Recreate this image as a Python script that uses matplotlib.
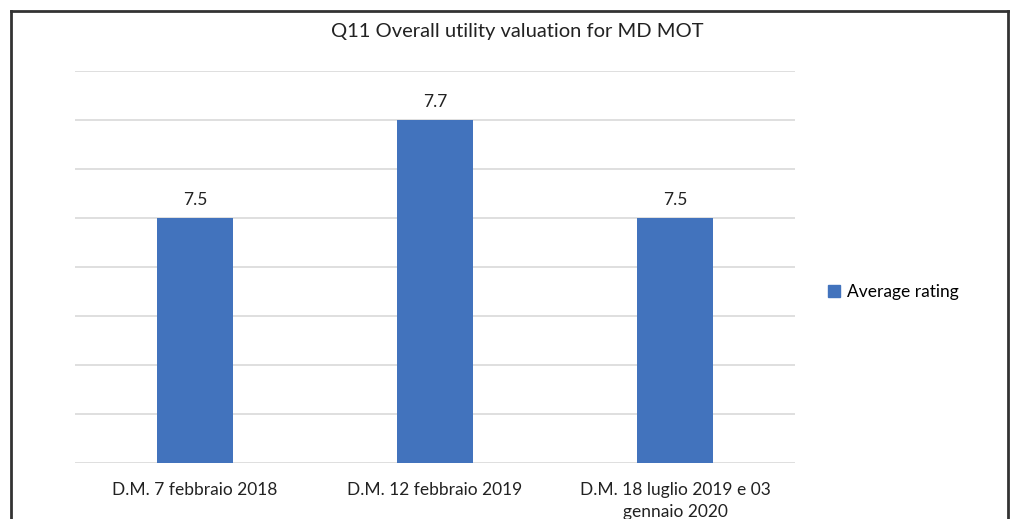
import matplotlib
matplotlib.use("Agg")
import matplotlib.pyplot as plt
from matplotlib.lines import Line2D
from matplotlib.patches import Patch

categories = ["D.M. 7 febbraio 2018", "D.M. 12 febbraio 2019", "D.M. 18 luglio 2019 e 03\ngennaio 2020"]
values = [7.5, 7.7, 7.5]
value_labels = ["7.5", "7.7", "7.5"]
series_name = "Average rating"
title = "Q11 Overall utility valuation for MD MOT"

plt.rcParams['font.family'] = ['Lato', 'DejaVu Sans']

W, H = 1011, 519
fig = plt.figure(figsize=(W/100, H/100), dpi=100)
ax = fig.add_axes([75/W, 1-463/H, (795-75)/W, (463-71)/H])

color = '#4273BD'
x = list(range(len(categories)))
ax.bar(x, values, width=0.315, color=color, zorder=3)
ax.set_xlim(-0.5, len(categories)-0.5)
ax.set_ylim(7.0, 7.8)
ax.set_yticks([7.0 + 0.1*i for i in range(9)])
ax.yaxis.grid(True, color='#d9d9d9', linewidth=1.2, zorder=0)
ax.tick_params(axis='y', left=False, labelleft=False)
ax.tick_params(axis='x', length=0, pad=13.5, labelsize=12.5, colors='#222222')
ax.set_xticks(x)
ax.set_xticklabels(categories, linespacing=1.5)
for s in ax.spines.values():
    s.set_visible(False)

for xi, v, lab in zip(x, values, value_labels):
    ax.annotate(lab, (xi, v), xytext=(0, 7), textcoords='offset points',
                ha='center', va='bottom', fontsize=12.5, color='#222222')

fig.text(517/W, 1-32/H, title, ha='center', va='center', fontsize=14.5, color='#222222')

fig.legend(handles=[Patch(color=color)], labels=[series_name], loc='center left',
           bbox_to_anchor=(812/W, 1-292/H), frameon=False, fontsize=12.5,
           handlelength=0.7, handleheight=0.7, handletextpad=0.4)

# outer border
bc = '#333333'
fig.add_artist(Line2D([11/W, 11/W], [0, 1-11/H], color=bc, lw=2, transform=fig.transFigure))
fig.add_artist(Line2D([11/W, 1008/W], [1-11/H, 1-11/H], color=bc, lw=2, transform=fig.transFigure))
fig.add_artist(Line2D([1008/W, 1008/W], [0, 1-11/H], color=bc, lw=2, transform=fig.transFigure))

fig.savefig("out.png", dpi=100)
